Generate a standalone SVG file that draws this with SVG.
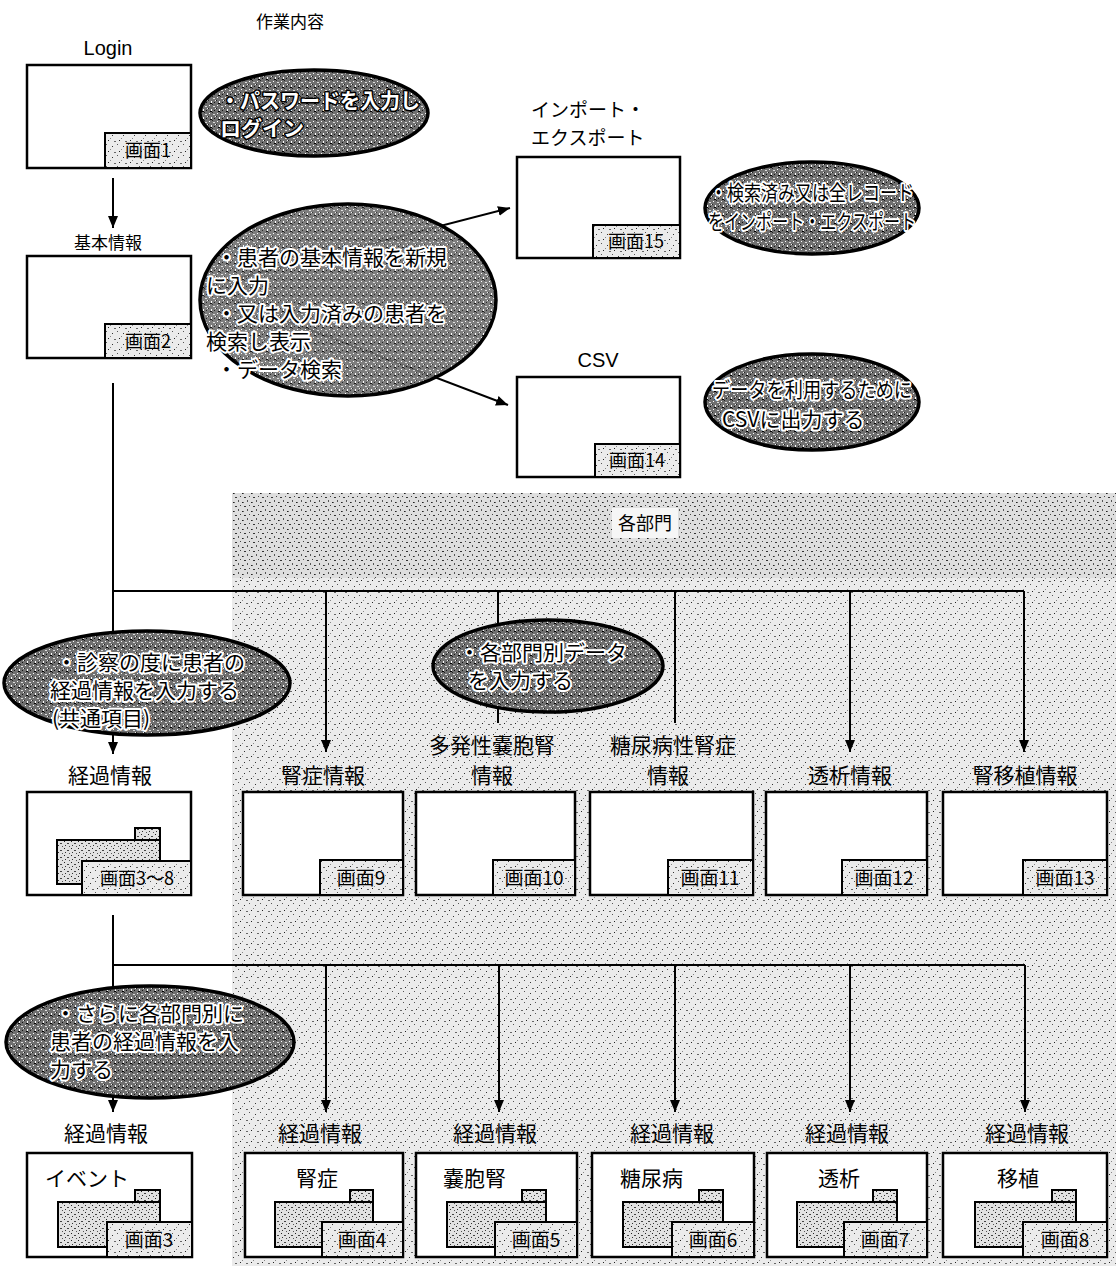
<svg xmlns="http://www.w3.org/2000/svg" width="1116" height="1266" viewBox="0 0 1116 1266">
<defs>
<style>
.t{font-family:"Noto Sans CJK JP","Liberation Sans",sans-serif;fill:#000}
.lat{font-family:"Liberation Sans","Noto Sans",sans-serif;fill:#000}
.scr{fill:#fff;stroke:#000;stroke-width:2.5}
.lbl{fill:url(#pl);stroke:#000;stroke-width:2}
.card{fill:url(#pc);stroke:#000;stroke-width:2}
.ell{fill:url(#pd);stroke:#000;stroke-width:3.5}
.halo{font-family:"Noto Sans CJK JP",sans-serif;font-size:21px;fill:#000;stroke:#fff;stroke-width:4;paint-order:stroke;stroke-linejoin:round}
.inv{font-family:"Noto Sans CJK JP",sans-serif;font-size:21px;font-weight:bold;fill:#fff;stroke:#000;stroke-width:3;paint-order:stroke;stroke-linejoin:round}
.ln{fill:none;stroke:#000;stroke-width:2}
</style>
<marker id="ah" viewBox="0 0 12 10" refX="12" refY="5" markerWidth="12" markerHeight="10" markerUnits="userSpaceOnUse" orient="auto"><path d="M0,0 L12,5 L0,10 z" fill="#000"/></marker>
<pattern id="pd" width="8" height="8" patternUnits="userSpaceOnUse">
<rect width="8" height="8" fill="#707070"/>
<rect x="1" y="1" width="1" height="1" fill="#fff"/>
<rect x="5" y="2" width="2" height="1" fill="#ddd"/>
<rect x="3" y="5" width="1" height="2" fill="#fff"/>
<rect x="6" y="6" width="1" height="1" fill="#111"/>
<rect x="0" y="4" width="1" height="1" fill="#222"/>
<rect x="7" y="4" width="1" height="1" fill="#eee"/>
<rect x="2" y="7" width="2" height="1" fill="#000"/>
<rect x="4" y="0" width="1" height="1" fill="#222"/>
</pattern>
<pattern id="pl" width="11" height="11" patternUnits="userSpaceOnUse">
<rect width="11" height="11" fill="#ebebeb"/>
<rect x="2" y="3" width="1" height="1" fill="#333"/>
<rect x="7" y="1" width="1" height="1" fill="#555"/>
<rect x="9" y="8" width="1" height="1" fill="#222"/>
<rect x="4" y="9" width="2" height="1" fill="#666"/>
<rect x="0" y="6" width="1" height="1" fill="#888"/>
</pattern>
<pattern id="ph" width="9" height="9" patternUnits="userSpaceOnUse">
<rect width="9" height="9" fill="#dedede"/>
<rect x="1" y="2" width="2" height="1" fill="#333"/>
<rect x="6" y="1" width="1" height="1" fill="#444"/>
<rect x="4" y="5" width="1" height="2" fill="#555"/>
<rect x="8" y="7" width="1" height="1" fill="#222"/>
<rect x="0" y="7" width="1" height="1" fill="#666"/>
</pattern>
<pattern id="pc" width="7" height="7" patternUnits="userSpaceOnUse">
<rect width="7" height="7" fill="#e2e2e2"/>
<rect x="1" y="1" width="1" height="1" fill="#222"/>
<rect x="4" y="3" width="2" height="1" fill="#444"/>
<rect x="2" y="5" width="1" height="1" fill="#333"/>
<rect x="6" y="6" width="1" height="1" fill="#555"/>
</pattern>
</defs>
<rect width="1116" height="1266" fill="#fff"/>

<g id="region-departments">
<rect x="232" y="493" width="884" height="773" fill="url(#pl)"/>
<rect x="232" y="493" width="884" height="85" fill="url(#ph)"/>
<rect x="612" y="508" width="66" height="30" fill="#f6f6f6"/>
<text class="t" x="645" y="530" font-size="18" text-anchor="middle">各部門</text>
</g>

<text class="t" x="290" y="28" font-size="17" text-anchor="middle">作業内容</text>

<g id="connectors">
<path class="ln" d="M113 178 V228" marker-end="url(#ah)"/>
<path class="ln" d="M113 383 V754" marker-end="url(#ah)"/>
<path class="ln" d="M113 591 H1024"/>
<path class="ln" d="M326 591 V752" marker-end="url(#ah)"/>
<path class="ln" d="M498 591 V723"/>
<path class="ln" d="M675 591 V723"/>
<path class="ln" d="M850 591 V752" marker-end="url(#ah)"/>
<path class="ln" d="M1024 591 V752" marker-end="url(#ah)"/>
<path class="ln" d="M200 288 L510 208" marker-end="url(#ah)"/>
<path class="ln" d="M200 288 L508 405" marker-end="url(#ah)"/>
<path class="ln" d="M113 915 V1112" marker-end="url(#ah)"/>
<path class="ln" d="M113 965 H1025"/>
<path class="ln" d="M326 965 V1112" marker-end="url(#ah)"/>
<path class="ln" d="M499 965 V1112" marker-end="url(#ah)"/>
<path class="ln" d="M675 965 V1112" marker-end="url(#ah)"/>
<path class="ln" d="M850 965 V1112" marker-end="url(#ah)"/>
<path class="ln" d="M1025 965 V1112" marker-end="url(#ah)"/>
</g>

<g id="n-login">
<text class="lat" x="108" y="55" font-size="20" text-anchor="middle">Login</text>
<rect class="scr" x="27" y="65" width="164" height="103"/>
<rect class="lbl" x="105" y="133" width="86" height="35"/>
<text class="t" x="148" y="157" font-size="18" text-anchor="middle">画面1</text>
</g>

<g id="n-note-login">
<ellipse class="ell" cx="314" cy="113" rx="114" ry="43"/>
<text class="inv" x="220" y="108" textLength="200" lengthAdjust="spacingAndGlyphs">・パスワードを入力し</text>
<text class="inv" x="220" y="136">ログイン</text>
</g>

<g id="n-basic">
<text class="t" x="108" y="249" font-size="17" text-anchor="middle">基本情報</text>
<rect class="scr" x="27" y="256" width="164" height="102"/>
<rect class="lbl" x="105" y="324" width="86" height="34"/>
<text class="t" x="148" y="348" font-size="18" text-anchor="middle">画面2</text>
</g>

<g id="n-note-basic">
<ellipse class="ell" cx="348" cy="300" rx="148" ry="96" fill-opacity="0.9"/>
<text class="halo" x="216" y="265" font-size="22">・患者の基本情報を新規</text>
<text class="halo" x="206" y="293" font-size="22">に入力</text>
<text class="halo" x="216" y="321" font-size="22">・又は入力済みの患者を</text>
<text class="halo" x="206" y="349" font-size="22">検索し表示</text>
<text class="halo" x="216" y="377" font-size="22">・データ検索</text>
</g>

<g id="n-import">
<text class="t" x="531" y="117" font-size="19">インポート・</text>
<text class="t" x="531" y="145" font-size="19">エクスポート</text>
<rect class="scr" x="517" y="157" width="163" height="101"/>
<rect class="lbl" x="593" y="225" width="87" height="33"/>
<text class="t" x="636" y="248" font-size="18" text-anchor="middle">画面15</text>
</g>

<g id="n-note-import">
<ellipse class="ell" cx="812" cy="208" rx="107" ry="46"/>
<text class="halo" x="710" y="200" font-size="17" textLength="204" lengthAdjust="spacingAndGlyphs">・検索済み又は全レコード</text>
<text class="halo" x="708" y="229" font-size="17" textLength="208" lengthAdjust="spacingAndGlyphs">をインポート・エクスポート</text>
</g>

<g id="n-csv">
<text class="lat" x="598" y="367" font-size="20" text-anchor="middle">CSV</text>
<rect class="scr" x="517" y="377" width="163" height="100"/>
<rect class="lbl" x="595" y="444" width="85" height="33"/>
<text class="t" x="637" y="467" font-size="18" text-anchor="middle">画面14</text>
</g>

<g id="n-note-csv">
<ellipse class="ell" cx="812" cy="402" rx="107" ry="48"/>
<text class="halo" x="712" y="397" font-size="18" textLength="200" lengthAdjust="spacingAndGlyphs">データを利用するために</text>
<text class="halo" x="722" y="427" font-size="18">CSVに出力する</text>
</g>

<g id="n-note-common">
<ellipse class="ell" cx="147" cy="683" rx="143" ry="52"/>
<text class="halo" x="56" y="670">・診察の度に患者の</text>
<text class="halo" x="50" y="698">経過情報を入力する</text>
<text class="halo" x="52" y="726">(共通項目)</text>
</g>

<g id="n-note-dept">
<ellipse class="ell" cx="548" cy="666" rx="115" ry="46"/>
<text class="halo" x="459" y="660">・各部門別データ</text>
<text class="halo" x="468" y="688">を入力する</text>
</g>

<g id="n-progress">
<text class="t" x="110" y="783" font-size="21" text-anchor="middle">経過情報</text>
<rect class="scr" x="27" y="792" width="164" height="103"/>
<rect class="card" x="135" y="828" width="25" height="12"/>
<rect class="card" x="57" y="840" width="103" height="44"/>
<rect class="lbl" x="82" y="861" width="109" height="34"/>
<text class="t" x="137" y="885" font-size="18" text-anchor="middle">画面3～8</text>
</g>

<g id="n-s9">
<text class="t" x="323" y="783" font-size="21" text-anchor="middle">腎症情報</text>
<rect class="scr" x="243" y="792" width="160" height="103"/>
<rect class="lbl" x="320" y="860" width="83" height="35"/>
<text class="t" x="361" y="885" font-size="19" text-anchor="middle">画面9</text>
</g>
<g id="n-s10">
<text class="t" x="492" y="753" font-size="21" text-anchor="middle">多発性嚢胞腎</text>
<text class="t" x="492" y="783" font-size="21" text-anchor="middle">情報</text>
<rect class="scr" x="416" y="792" width="159" height="103"/>
<rect class="lbl" x="493" y="860" width="82" height="35"/>
<text class="t" x="534" y="885" font-size="19" text-anchor="middle">画面10</text>
</g>
<g id="n-s11">
<text class="t" x="673" y="753" font-size="21" text-anchor="middle">糖尿病性腎症</text>
<text class="t" x="668" y="783" font-size="21" text-anchor="middle">情報</text>
<rect class="scr" x="590" y="792" width="163" height="103"/>
<rect class="lbl" x="668" y="860" width="85" height="35"/>
<text class="t" x="710" y="885" font-size="19" text-anchor="middle">画面11</text>
</g>
<g id="n-s12">
<text class="t" x="850" y="783" font-size="21" text-anchor="middle">透析情報</text>
<rect class="scr" x="766" y="792" width="161" height="103"/>
<rect class="lbl" x="842" y="860" width="85" height="35"/>
<text class="t" x="884" y="885" font-size="19" text-anchor="middle">画面12</text>
</g>
<g id="n-s13">
<text class="t" x="1025" y="783" font-size="21" text-anchor="middle">腎移植情報</text>
<rect class="scr" x="943" y="792" width="164" height="103"/>
<rect class="lbl" x="1023" y="860" width="84" height="35"/>
<text class="t" x="1065" y="885" font-size="19" text-anchor="middle">画面13</text>
</g>

<g id="n-note-each">
<ellipse class="ell" cx="150" cy="1042" rx="144" ry="56"/>
<text class="halo" x="55" y="1021">・さらに各部門別に</text>
<text class="halo" x="50" y="1049">患者の経過情報を入</text>
<text class="halo" x="50" y="1077">力する</text>
</g>

<g id="n-s3">
<text class="t" x="106" y="1141" font-size="21" text-anchor="middle">経過情報</text>
<rect class="scr" x="27" y="1153" width="165" height="104"/>
<text class="t" x="45" y="1186" font-size="21">イベント</text>
<rect class="card" x="135" y="1190" width="25" height="12"/>
<rect class="card" x="58" y="1202" width="102" height="45"/>
<rect class="lbl" x="107" y="1222" width="85" height="35"/>
<text class="t" x="149" y="1247" font-size="19" text-anchor="middle">画面3</text>
</g>
<g id="n-s4">
<text class="t" x="320" y="1141" font-size="21" text-anchor="middle">経過情報</text>
<rect class="scr" x="245" y="1153" width="158" height="104"/>
<text class="t" x="296" y="1186" font-size="21">腎症</text>
<rect class="card" x="350" y="1190" width="23" height="12"/>
<rect class="card" x="275" y="1202" width="98" height="45"/>
<rect class="lbl" x="322" y="1222" width="81" height="35"/>
<text class="t" x="362" y="1247" font-size="19" text-anchor="middle">画面4</text>
</g>
<g id="n-s5">
<text class="t" x="495" y="1141" font-size="21" text-anchor="middle">経過情報</text>
<rect class="scr" x="416" y="1153" width="161" height="104"/>
<text class="t" x="443" y="1186" font-size="21">嚢胞腎</text>
<rect class="card" x="522" y="1190" width="24" height="12"/>
<rect class="card" x="447" y="1202" width="99" height="45"/>
<rect class="lbl" x="495" y="1222" width="82" height="35"/>
<text class="t" x="536" y="1247" font-size="19" text-anchor="middle">画面5</text>
</g>
<g id="n-s6">
<text class="t" x="672" y="1141" font-size="21" text-anchor="middle">経過情報</text>
<rect class="scr" x="592" y="1153" width="162" height="104"/>
<text class="t" x="620" y="1186" font-size="21">糖尿病</text>
<rect class="card" x="699" y="1190" width="24" height="12"/>
<rect class="card" x="623" y="1202" width="100" height="45"/>
<rect class="lbl" x="672" y="1222" width="82" height="35"/>
<text class="t" x="713" y="1247" font-size="19" text-anchor="middle">画面6</text>
</g>
<g id="n-s7">
<text class="t" x="847" y="1141" font-size="21" text-anchor="middle">経過情報</text>
<rect class="scr" x="767" y="1153" width="160" height="104"/>
<text class="t" x="818" y="1186" font-size="21">透析</text>
<rect class="card" x="873" y="1190" width="24" height="12"/>
<rect class="card" x="797" y="1202" width="100" height="45"/>
<rect class="lbl" x="844" y="1222" width="83" height="35"/>
<text class="t" x="885" y="1247" font-size="19" text-anchor="middle">画面7</text>
</g>
<g id="n-s8">
<text class="t" x="1027" y="1141" font-size="21" text-anchor="middle">経過情報</text>
<rect class="scr" x="943" y="1153" width="164" height="104"/>
<text class="t" x="997" y="1186" font-size="21">移植</text>
<rect class="card" x="1052" y="1190" width="24" height="12"/>
<rect class="card" x="975" y="1202" width="101" height="45"/>
<rect class="lbl" x="1023" y="1222" width="84" height="35"/>
<text class="t" x="1065" y="1247" font-size="19" text-anchor="middle">画面8</text>
</g>
</svg>
